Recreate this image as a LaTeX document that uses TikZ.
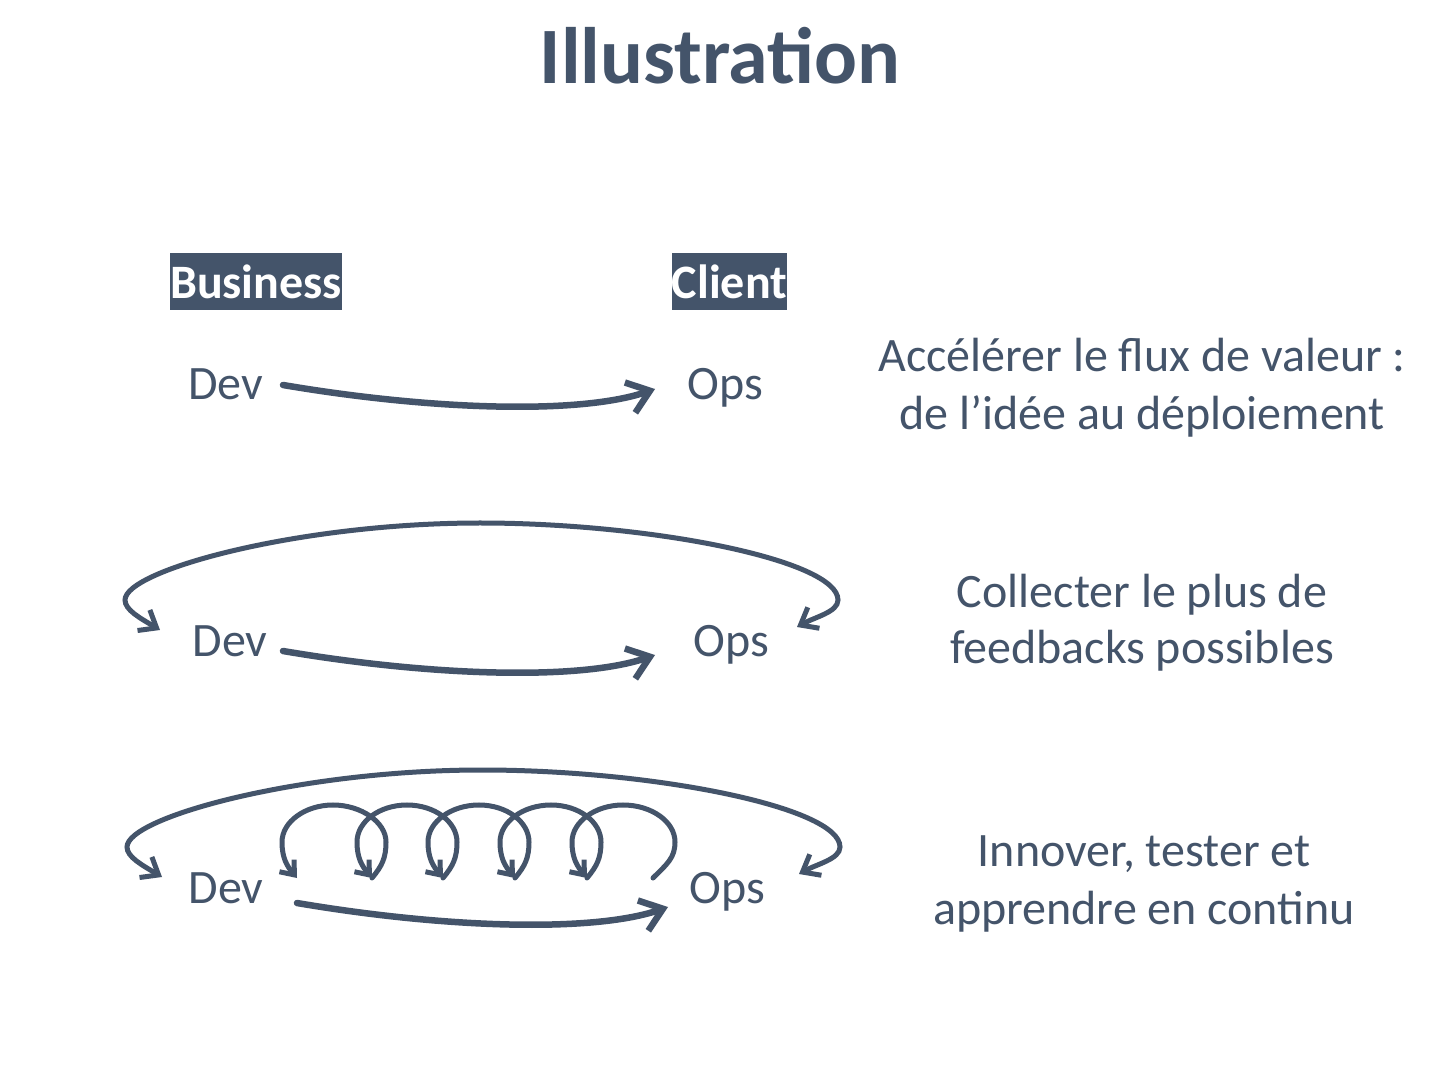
\documentclass[tikz,border=0pt]{standalone}
\usepackage{fontspec}
\setmainfont{Carlito}
\usetikzlibrary{arrows.meta}
\definecolor{slate}{HTML}{44546A}
\begin{document}
\begin{tikzpicture}[x=1pt,y=1pt,
  txt/.style={text=slate, font=\fontsize{48}{57.6}\selectfont, inner sep=0pt, anchor=base},
  titlestyle/.style={text=slate, font=\bfseries\fontsize{80}{96}\selectfont, inner sep=0pt, anchor=base},
  lbl/.style={fill=slate, text=white, font=\bfseries\fontsize{48}{57.6}\selectfont, inner xsep=0pt, inner ysep=0pt, minimum height=57pt},
  flowar/.style={draw=slate, line width=6.5pt, line cap=round, -{Straight Barb[length=21pt,width=32pt]}},
  fbar/.style={draw=slate, line width=5pt, line cap=round, {Straight Barb[length=15pt,width=24pt]}-{Straight Barb[length=15pt,width=24pt]}},
  loopar/.style={draw=slate, line width=5pt, line cap=round, -{Straight Barb[length=12pt,width=19pt]}}
]
\path[fill=white, use as bounding box] (0,0) rectangle (1440,1080);

% title
\node[titlestyle] (title) at (720,996) {Illustration};

% labels
\node[lbl, minimum width=172pt] (biz) at (256,798) {Business};
\node[lbl, minimum width=115pt] (cli) at (729.5,798) {Client};

% row 1
\node[txt] (dev1) at (225.5,680) {Dev};
\node[txt] (ops1) at (725,680) {Ops};
\draw[flowar] ([shift={(57.5,15)}]dev1.base) .. controls +(147,-25) and +(-75,-26) .. ([shift={(-70,11)}]ops1.base);
\node[txt] (d1a) at (1142,708) {Accélérer le flux de valeur :};
\node[txt] (d1b) at (1142,650) {de l’idée au déploiement};

% row 2
\node[txt] (dev2) at (230,423) {Dev};
\node[txt] (ops2) at (731,423) {Ops};
\draw[flowar] ([shift={(53,6)}]dev2.base) .. controls +(147,-25) and +(-75,-26) .. ([shift={(-76,2)}]ops2.base);
\coordinate (fbR2) at ([shift={(66,30)}]ops2.base);
\coordinate (fbL2) at ([shift={(-70,27)}]dev2.base);
\draw[fbar] (fbR2) .. controls (815,463) and (838,468) .. (838,480)
  .. controls (838,520) and (650,557) .. (480,557)
  .. controls (300,557) and (125,510) .. (125,480)
  .. controls (125,470) and (140,462) .. (fbL2);
\node[txt] (d2a) at (1142,472) {Collecter le plus de};
\node[txt] (d2b) at (1142,416) {feedbacks possibles};

% row 3
\node[txt] (dev3) at (226,177) {Dev};
\node[txt] (ops3) at (727.5,177) {Ops};
\draw[flowar] ([shift={(71,0)}]dev3.base) .. controls +(147,-25) and +(-75,-26) .. ([shift={(-59.5,-4)}]ops3.base);
\coordinate (fbR3) at ([shift={(71.5,29)}]ops3.base);
\coordinate (fbL3) at ([shift={(-64,26)}]dev3.base);
\draw[fbar] (fbR3) .. controls (817,216) and (840,221) .. (840,233)
  .. controls (840,273) and (652,310) .. (482,310)
  .. controls (302,310) and (127,263) .. (127,233)
  .. controls (127,223) and (142,215) .. (fbL3);
\node[txt] (d3a) at (1144,214) {Innover, tester et};
\node[txt] (d3b) at (1144,156) {apprendre en continu};

% loops
\coordinate (lp0) at (653,202);
\coordinate (lp1) at (587,202);
\coordinate (lp2) at (515,202);
\coordinate (lp3) at (443,202);
\coordinate (lp4) at (372,202);
\coordinate (lp5) at (297,202);
\draw[loopar] (lp0) .. controls +(14,14) and +(0,-16) .. (675,238) .. controls +(0,20) and +(29,0) .. (623,275)
  .. controls +(-28,0) and +(0,20) .. (572,238) .. controls +(0,-16) and +(-10,12) .. (lp1);
\draw[loopar] (lp1) .. controls +(10,12) and +(0,-16) .. (601,238) .. controls +(0,20) and +(28,0) .. (551,275)
  .. controls +(-28,0) and +(0,20) .. (500,238) .. controls +(0,-16) and +(-10,12) .. (lp2);
\draw[loopar] (lp2) .. controls +(10,12) and +(0,-16) .. (529,238) .. controls +(0,20) and +(28,0) .. (479,275)
  .. controls +(-28,0) and +(0,20) .. (428,238) .. controls +(0,-16) and +(-10,12) .. (lp3);
\draw[loopar] (lp3) .. controls +(10,12) and +(0,-16) .. (457,238) .. controls +(0,20) and +(28,0) .. (407,275)
  .. controls +(-28,0) and +(0,20) .. (357,238) .. controls +(0,-16) and +(-10,12) .. (lp4);
\draw[loopar] (lp4) .. controls +(10,12) and +(0,-16) .. (386,238) .. controls +(0,20) and +(28,0) .. (333,275)
  .. controls +(-28,0) and +(0,20) .. (282,238) .. controls +(0,-16) and +(-10,12) .. (lp5);
\end{tikzpicture}
\end{document}
